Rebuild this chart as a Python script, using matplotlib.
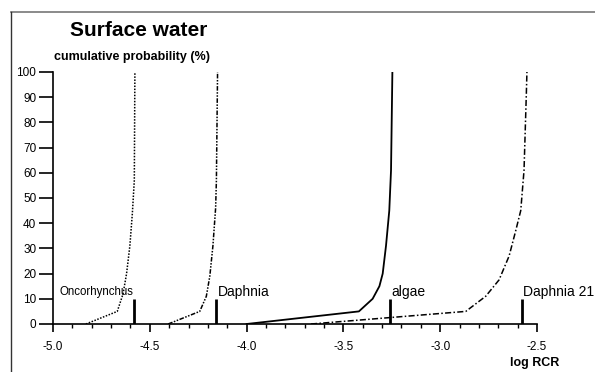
import matplotlib
matplotlib.use("Agg")
import matplotlib.pyplot as plt
from matplotlib.lines import Line2D

plt.rcParams['font.family'] = ['Liberation Sans', 'DejaVu Sans']

# Data (log RCR vs cumulative probability %)
onco_x = [-4.83, -4.668, -4.638, -4.62, -4.603, -4.59, -4.58, -4.577]
onco_y = [0, 5, 12, 20, 31, 44, 57, 100]

daph_x = [-4.405, -4.242, -4.208, -4.19, -4.174, -4.16, -4.156, -4.15]
daph_y = [0, 5, 11, 19, 31, 46, 57, 100]

algae_x = [-4.0, -3.42, -3.349, -3.314, -3.297, -3.28, -3.263, -3.254, -3.247]
algae_y = [0, 5, 10, 15, 20, 31, 45, 61, 100]

daph21_x = [-3.667, -2.868, -2.765, -2.696, -2.644, -2.61, -2.584, -2.567, -2.555, -2.552]
daph21_y = [0, 5, 11, 17.5, 27, 37, 45, 61, 91.5, 100]

bar_names = ['Oncorhynchus', 'Daphnia', 'algae', 'Daphnia 21']
bar_x = [-4.58, -4.156, -3.26, -2.58]
bar_h = [10, 10, 10, 10]

x_ticks = [-5.0, -4.5, -4.0, -3.5, -3.0, -2.5]
y_ticks = [0, 10, 20, 30, 40, 50, 60, 70, 80, 90, 100]

fig = plt.figure(figsize=(5.95, 3.72), dpi=100)
ax = fig.add_axes([53/595, 1-324/372, (537-53)/595, (324-72)/372])

lw = 1.1
ax.plot(onco_x, onco_y, color='black', lw=lw, linestyle=(0, (1, 1)))
ax.plot(daph_x, daph_y, color='black', lw=lw, linestyle=(0, (3, 1, 1, 1, 1, 1)))
ax.plot(algae_x, algae_y, color='black', lw=1.3, linestyle='-')
ax.plot(daph21_x, daph21_y, color='black', lw=lw, linestyle=(0, (4, 1.5, 1, 1.5)))

ax.vlines(bar_x, 0, bar_h, color='black', lw=2)

label_fs = [8.3, 10, 10, 10]
for i, (name, bx, bh) in enumerate(zip(bar_names, bar_x, bar_h)):
    if i == 0:
        ax.text(bx - 0.005, bh + 2.7, name, ha='right', va='center', fontsize=label_fs[i])
    else:
        ax.text(bx + 0.01, bh + 2.7, name, ha='left', va='center', fontsize=label_fs[i])

ax.set_xlim(-5.0, -2.5)
ax.set_ylim(0, 100)
ax.set_xticks(x_ticks)
ax.set_xticklabels([f"{t:.1f}" for t in x_ticks], fontsize=8.5)
ax.set_xticks([-5 + 0.1 * i for i in range(26)], minor=True)
ax.set_yticks(y_ticks)
ax.set_yticklabels([str(t) for t in y_ticks], fontsize=8.5)
ax.tick_params(axis='x', which='major', direction='out', length=6, width=1.2, pad=6)
ax.tick_params(axis='x', which='minor', direction='out', length=3, width=1)
ax.tick_params(axis='y', which='major', direction='out', length=10, width=1.2, pad=2)
ax.spines['top'].set_visible(False)
ax.spines['right'].set_visible(False)
ax.spines['left'].set_linewidth(1.2)
ax.spines['bottom'].set_linewidth(1.2)
ax.patch.set_alpha(0)

fig.text(139/595, 1-31/372, 'Surface water', ha='center', va='center',
         fontsize=15, fontweight='bold')
fig.text(54/595, 1-57/372, 'cumulative probability (%)', ha='left', va='center',
         fontsize=9, fontweight='bold')
fig.text(535/595, 1-363/372, 'log RCR', ha='center', va='center',
         fontsize=9, fontweight='bold')

# figure frame (top and left edges)
fig.add_artist(Line2D([11/595, 1.0], [1-12/372, 1-12/372], transform=fig.transFigure,
                      color='#777777', lw=1.2))
fig.add_artist(Line2D([11/595, 11/595], [0, 1-12/372], transform=fig.transFigure,
                      color='#333333', lw=1.0))

fig.savefig('out.png', dpi=100)
